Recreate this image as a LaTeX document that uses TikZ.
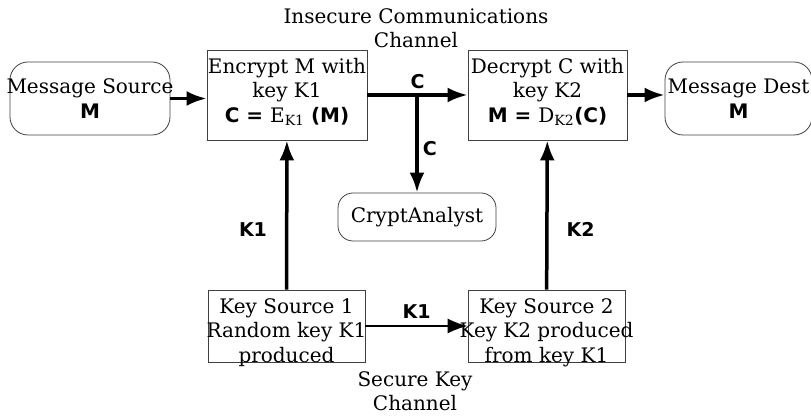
\documentclass[tikz,border=0pt]{standalone}
\usepackage{fontspec}
\setmainfont{DejaVu Serif}
\setsansfont{DejaVu Sans}
\usetikzlibrary{arrows.meta,
                positioning}
\tikzset{block/.style=
   {rectangle,
    draw=black!75,
    line width=0.8pt,
    text centered,
    inner sep=0pt}}
\tikzset{terminal/.style=
   {block,
    rounded corners=18pt}}
\tikzset{arrow/.style = {draw, line width=3.5pt, -{Latex[length=20pt,width=15pt]}}}
\tikzset{thinarrow/.style = {draw, line width=1.8pt, -{Latex[length=20pt,width=15pt]}}}
\tikzset{keylabel/.style = {font=\sffamily\bfseries\fontsize{19}{21}\selectfont, inner sep=4pt}}
\newcommand{\boxlines}[2][0pt]{\smash{\raisebox{#1}{\makebox[0pt]{\begin{tabular}{@{}c@{}}#2\end{tabular}}}}}

\begin{document}
\begin{tikzpicture}[x=1pt, y=-1pt, font=\fontsize{20}{24.5}\selectfont]

    \path[use as bounding box, clip] (0,0) rectangle (811,419);

    % message path
    \node [terminal, minimum width=160pt, minimum height=73pt] (src) at (90,98.5)
    {\boxlines[-8pt]{Message Source\\ \textsf{\bfseries M}}};
    \node [block, minimum width=160pt, minimum height=90pt] (enc) at (287,95)
    {\boxlines[-3pt]{Encrypt M with\\key K1\\ \textsf{\bfseries C = }E\textsubscript{K1} \textsf{\bfseries (M)}}};
    \node [block, minimum width=159pt, minimum height=90pt] (dec) at (547.5,95)
    {\boxlines[-3pt]{Decrypt C with\\key K2\\ \textsf{\bfseries M = }D\textsubscript{K2}\textsf{\bfseries (C)}}};
    \node [terminal, minimum width=147pt, minimum height=73pt] (dst) at (738.5,98.5)
    {\boxlines[-8pt]{Message Dest\\ \textsf{\bfseries M}}};
    \node [terminal, rounded corners=15pt, minimum width=158pt, minimum height=48pt] (crypt) at (417,217)
    {CryptAnalyst};

    % key sources
    \node [block, minimum width=157pt, minimum height=72pt] (ks1) at (286.5,326)
    {\boxlines[-12pt]{Key Source 1\\Random key K1\\produced}};
    \node [block, minimum width=157pt, minimum height=72pt] (ks2) at (546.5,326)
    {\boxlines[-12pt]{Key Source 2\\Key K2 produced\\from key K1}};

    % channel names
    \node [align=center] (insecure) at (416,28) {Insecure Communications\\Channel};
    \node [align=center] (secure) at (415,391) {Secure Key\\Channel};

    % connectors
    \draw [arrow] (src.east) -- (src.east -| enc.west);
    \draw [arrow] (enc) -- node [keylabel, above] {C} (dec);
    \coordinate (tap) at (enc.east -| crypt.north);
    \draw [arrow] (tap) -- node [keylabel, right, pos=0.55] {C} (crypt.north);
    \draw [arrow] (dec.east) -- (dec.east -| dst.west);
    \draw [arrow] (ks1) -- node [keylabel, left=14pt, pos=0.4] {K1} (enc);
    \draw [arrow] (ks2) -- node [keylabel, right=14pt, pos=0.4] {K2} (dec);
    \draw [thinarrow] (ks1) -- node [keylabel, above=3pt] {K1} (ks2);

\end{tikzpicture}
\end{document}
